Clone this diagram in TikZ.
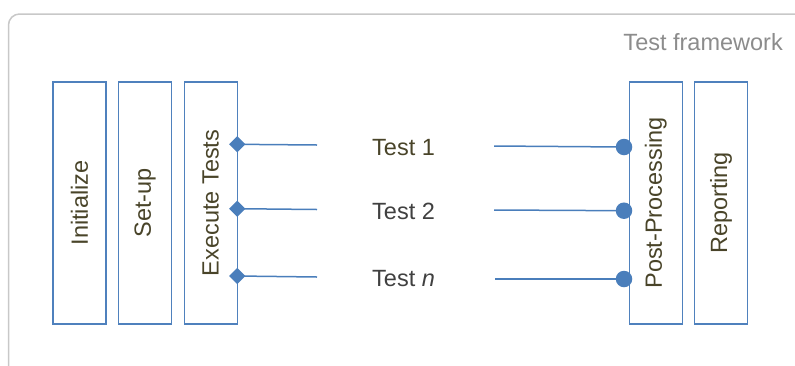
\documentclass[tikz,border=0pt]{standalone}
\usepackage{fontspec}
\setmainfont{Liberation Sans}
\definecolor{boxblue}{HTML}{4F81BD}
\definecolor{linkblue}{HTML}{4A7EBB}
\definecolor{olivetext}{HTML}{494429}
\definecolor{darkgraytext}{HTML}{404040}
\definecolor{frametext}{HTML}{8C8C8C}
\definecolor{framegray}{HTML}{C8C8C8}
\begin{document}
\begin{tikzpicture}[x=1pt,y=-1pt,
  bigfont/.style={font=\fontsize{23.5}{28}\selectfont},
  stagebox/.style={draw=boxblue, line width=1.3pt, rotate=90, minimum width=242pt,
    minimum height=53pt, inner sep=0pt, bigfont, text=olivetext},
  testlabel/.style={anchor=base west, inner sep=0pt, bigfont},
  link/.style={draw=linkblue, line width=1.5pt},
  diamtip/.style={rectangle, rotate=45, fill=linkblue, minimum size=11.5pt, inner sep=0pt},
  dottip/.style={circle, fill=linkblue, minimum size=16.5pt, inner sep=0pt}]
\useasboundingbox (0,0) rectangle (795,365);
% frame
\draw[framegray, line width=1.5pt, rounded corners=11pt] (8.5,366) -- (8.5,14) -- (797,14);
\node[anchor=base east, inner sep=0pt, bigfont, text=frametext] (fw) at (783,50) {Test framework};
% stage boxes
\node[stagebox] (init) at (79.5,203) {Initialize};
\node[stagebox] (setup) at (145,203) {Set-up};
\node[stagebox] (exec) at (210.7,203) {Execute Tests};
\node[stagebox] (post) at (655.8,203) {Post-Processing};
\node[stagebox] (rep) at (721,203) {Reporting};
% test labels
\node[testlabel, text=olivetext] (t1) at (372,155) {Test 1};
\node[testlabel, text=darkgraytext] (t2) at (372,219) {Test 2};
\node[testlabel, text=darkgraytext] (tn) at (372,286.7) {Test \textit{n}};
% link ends
\coordinate (l1) at (317,145);
\coordinate (l2) at (317,209.5);
\coordinate (ln) at (317,277);
\coordinate (r1) at (494,146);
\coordinate (r2) at (494,210);
\coordinate (rn) at (495,279);
\node[diamtip] (d1) at (237.3,144.3) {};
\node[diamtip] (d2) at (237.3,208.7) {};
\node[diamtip] (dn) at (237.3,276) {};
\node[dottip] (c1) at (624,147) {};
\node[dottip] (c2) at (624,210.7) {};
\node[dottip] (cn) at (624,279) {};
\draw[link] (d1.center) -- (l1);
\draw[link] (d2.center) -- (l2);
\draw[link] (dn.center) -- (ln);
\draw[link] (r1) -- (c1.center);
\draw[link] (r2) -- (c2.center);
\draw[link] (rn) -- (cn.center);
\end{tikzpicture}
\end{document}
